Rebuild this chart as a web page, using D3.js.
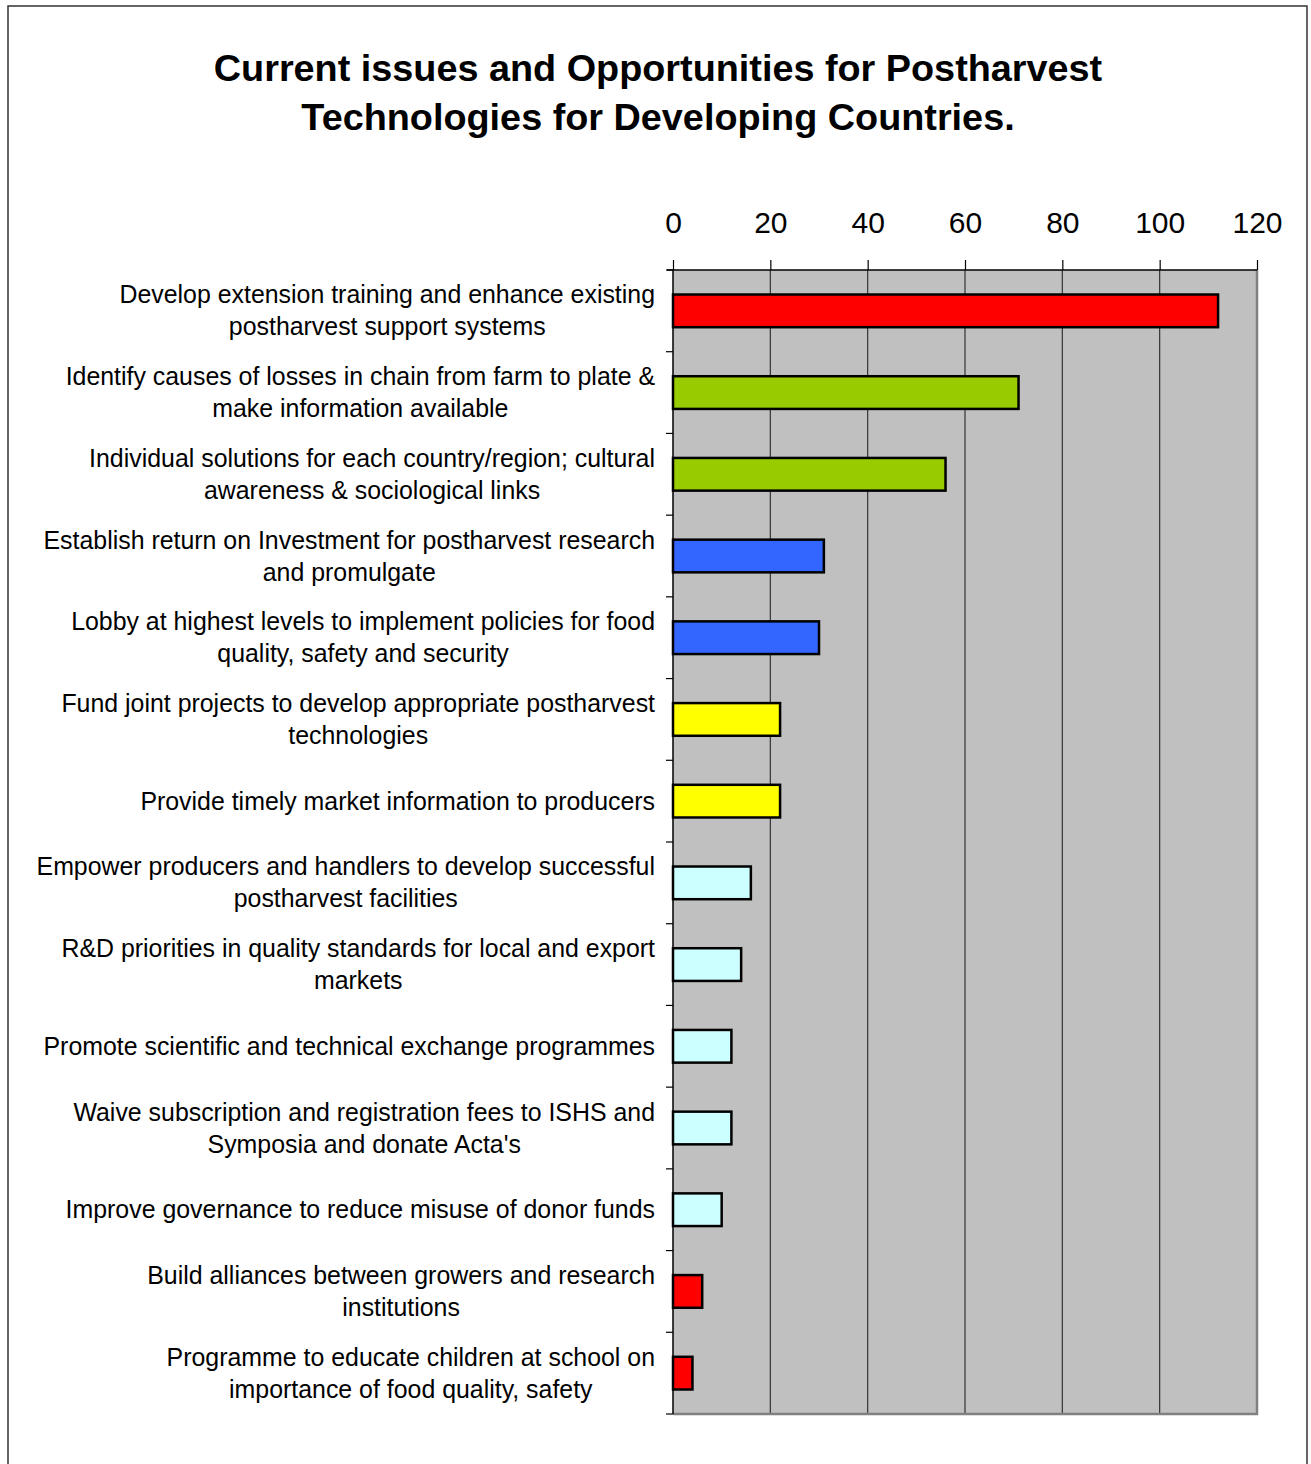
<!DOCTYPE html>
<html lang="en">
<head>
<meta charset="UTF-8">
<title>Postharvest issues</title>
<style>
  html, body { margin: 0; padding: 0; background: #fff; }
  svg { display: block; }
</style>
</head>
<body>
<div id="chart"></div>
<script src="https://cdn.jsdelivr.net/npm/d3@7"></script>
<script>
// categories (each label split in its printed lines)
const categories = [
  ['Develop extension training and enhance existing', 'postharvest support systems'],
  ['Identify causes of losses in chain from farm to plate &', 'make information available'],
  ['Individual solutions for each country/region; cultural', 'awareness & sociological links'],
  ['Establish return on Investment for postharvest research', 'and promulgate'],
  ['Lobby at highest levels to implement policies for food', 'quality, safety and security'],
  ['Fund joint projects to develop appropriate postharvest', 'technologies'],
  ['Provide timely market information to producers'],
  ['Empower producers and handlers to develop successful', 'postharvest facilities'],
  ['R&D priorities in quality standards for local and export', 'markets'],
  ['Promote scientific and technical exchange programmes'],
  ['Waive subscription and registration fees to ISHS and', "Symposia and donate Acta's"],
  ['Improve governance to reduce misuse of donor funds'],
  ['Build alliances between growers and research', 'institutions'],
  ['Programme to educate children at school on', 'importance of food quality, safety']
];
const values = [112, 71, 56, 31, 30, 22, 22, 16, 14, 12, 12, 10, 6, 4];
const barColors = ['#ff0000', '#99cc00', '#99cc00', '#3366ff', '#3366ff', '#ffff00', '#ffff00',
  '#ccffff', '#ccffff', '#ccffff', '#ccffff', '#ccffff', '#ff0000', '#ff0000'];
const xTicks = [0, 20, 40, 60, 80, 100, 120];
const titleLines = ['Current issues and Opportunities for Postharvest', 'Technologies for Developing Countries.'];

const W = 1311, H = 1464;
const plot = { left: 673, right: 1257, top: 270, bottom: 1414 };
const FONT = 'Arial, "Liberation Sans", sans-serif';

const svg = d3.select('#chart').append('svg').attr('width', W).attr('height', H)
  .style('font-family', FONT);

// outer frame
svg.append('rect').attr('x', 8).attr('y', 6).attr('width', 1299).attr('height', 1470)
  .attr('fill', 'none').attr('stroke', '#333').attr('stroke-width', 1.5);

// title
svg.append('g').selectAll('text').data(titleLines).enter().append('text')
  .attr('x', 658).attr('y', (d, i) => 81 + i * 49)
  .attr('text-anchor', 'middle').attr('font-size', 37.8).attr('font-weight', 'bold')
  .text(d => d);

const xScale = d3.scaleLinear().domain([0, 120]).range([plot.left, plot.right]);
const yScale = d3.scaleBand().domain(d3.range(categories.length))
  .range([plot.top, plot.bottom]).paddingInner(0.6).paddingOuter(0.3);
const step = yScale.step();

// plot background
svg.append('rect').attr('x', plot.left).attr('y', plot.top)
  .attr('width', plot.right - plot.left).attr('height', plot.bottom - plot.top)
  .attr('fill', '#c0c0c0');

// vertical gridlines
svg.append('g').selectAll('line').data(xTicks.slice(1, -1)).enter().append('line')
  .attr('x1', d => xScale(d)).attr('x2', d => xScale(d))
  .attr('y1', plot.top).attr('y2', plot.bottom)
  .attr('stroke', '#333').attr('stroke-width', 1.2);

// right and bottom border of plot
svg.append('path')
  .attr('d', `M${plot.right},${plot.top}V${plot.bottom}H${plot.left}`)
  .attr('fill', 'none').attr('stroke', '#808080').attr('stroke-width', 2.5);

// top axis
const xAxis = d3.axisTop(xScale).tickValues(xTicks).tickSize(10).tickPadding(27);
const gx = svg.append('g').attr('transform', `translate(0,${plot.top})`).call(xAxis);
gx.select('.domain').attr('d', `M${plot.left - 6},0H${plot.right}`).attr('stroke', '#000').attr('stroke-width', 1.5);
gx.selectAll('.tick line').attr('stroke', '#000').attr('stroke-width', 1.2);
gx.selectAll('.tick text').attr('font-size', 30).attr('font-family', FONT).attr('fill', '#000');

// left axis: category ticks on band boundaries
const bounds = d3.range(categories.length + 1).map(i => plot.top + i * step);
svg.append('g').selectAll('line').data(bounds).enter().append('line')
  .attr('x1', plot.left - 7).attr('x2', plot.left)
  .attr('y1', d => d).attr('y2', d => d)
  .attr('stroke', '#000').attr('stroke-width', 1.2);
svg.append('line').attr('x1', plot.left).attr('x2', plot.left)
  .attr('y1', plot.top).attr('y2', plot.bottom)
  .attr('stroke', '#000').attr('stroke-width', 1.5);

// bars
svg.append('g').selectAll('rect').data(values).enter().append('rect')
  .attr('x', xScale(0))
  .attr('y', (d, i) => yScale(i))
  .attr('width', d => xScale(d) - xScale(0))
  .attr('height', yScale.bandwidth())
  .attr('fill', (d, i) => barColors[i])
  .attr('stroke', '#000').attr('stroke-width', 2.5);

// category labels: lines centred on each other, block right-aligned to the axis
const lab = svg.append('g').selectAll('text').data(categories).enter().append('text')
  .attr('text-anchor', 'middle').attr('font-size', 24.9).attr('fill', '#000');
lab.each(function (lines, i) {
  const cy = yScale(i) + yScale.bandwidth() / 2;
  const n = lines.length;
  const t = d3.select(this);
  const spans = t.selectAll('tspan').data(lines).enter().append('tspan')
    .attr('y', (d, j) => cy + (j - (n - 1) / 2) * 32 + 8.5)
    .text(d => d);
  let maxW = 0;
  spans.each(function () { maxW = Math.max(maxW, this.getComputedTextLength()); });
  spans.attr('x', 655 - maxW / 2);
});
</script>
</body>
</html>
